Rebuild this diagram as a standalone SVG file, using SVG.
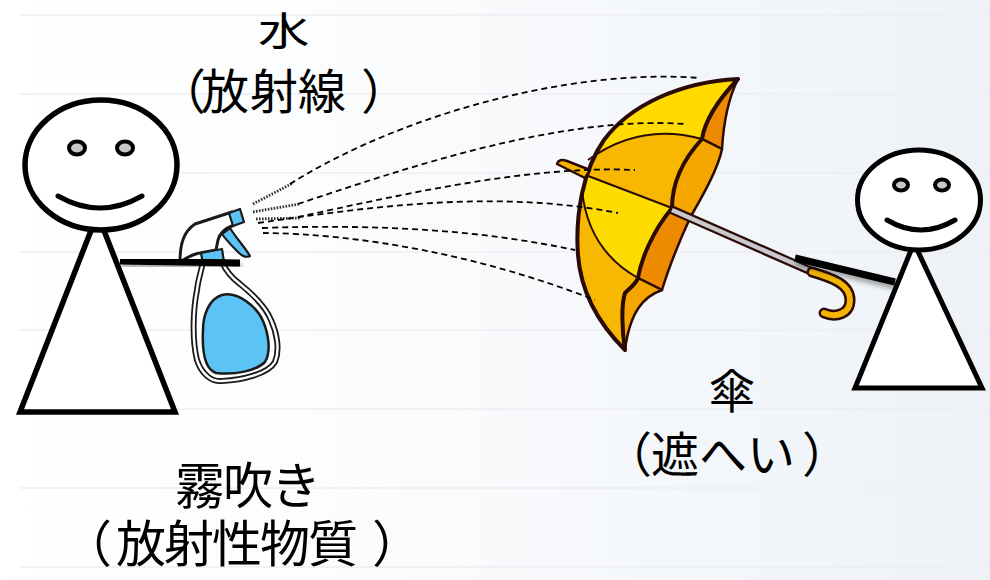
<svg xmlns="http://www.w3.org/2000/svg" width="990" height="580" viewBox="0 0 990 580">
  <defs>
    <linearGradient id="bg" x1="0" y1="0" x2="1" y2="0">
      <stop offset="0" stop-color="#ffffff"/>
      <stop offset="0.3" stop-color="#fcfdfe"/>
      <stop offset="1" stop-color="#eef2f7"/>
    </linearGradient>
    <filter id="armShadow" x="-20%" y="-100%" width="140%" height="400%">
      <feDropShadow dx="1" dy="4" stdDeviation="2.5" flood-color="#000" flood-opacity="0.35"/>
    </filter>
    <clipPath id="canopyFace">
      <path d="M738,79 C680,82 630,105 604,140 C583,170 575,215 578,255 C581,295 600,325 625,350 C622,330 621,305 625,293 C630,288 636,284 638,278 C641,260 652,232 672,208 C672,190 678,165 702,139 C705,120 718,100 738,79 Z"/>
    </clipPath>
    <style>
      .label { font-family: "Noto Sans CJK JP", "Noto Sans", sans-serif; fill: #000; }
      .rule { stroke: #eceef2; stroke-width: 1.5; }
      .figure { fill: #fff; stroke: #000; stroke-linejoin: miter; }
      .eye { fill: #c8c8c8; stroke: #000; stroke-width: 4; }
      .smile { fill: none; stroke: #000; stroke-width: 5; stroke-linecap: round; }
      .arm { stroke: #000; stroke-width: 7; filter: url(#armShadow); }
      .ink { stroke: #1a1a1a; stroke-linejoin: round; }
      .blue { fill: #5bc4f5; }
      .um { stroke: #2b0b06; stroke-linejoin: round; }
      .spray { fill: none; stroke: #000; stroke-width: 1.8; stroke-dasharray: 6 4; }
      .mist { fill: none; stroke: #333; stroke-width: 2.8; stroke-dasharray: 1.6 1.4; }
    </style>
  </defs>

  <!-- backdrop -->
  <rect width="990" height="580" fill="url(#bg)"/>
  <g id="rules">
    <line class="rule" x1="20" y1="15" x2="990" y2="15"/>
    <line class="rule" x1="20" y1="94" x2="990" y2="94"/>
    <line class="rule" x1="20" y1="173" x2="990" y2="173"/>
    <line class="rule" x1="20" y1="252" x2="990" y2="252"/>
    <line class="rule" x1="20" y1="330" x2="990" y2="330"/>
    <line class="rule" x1="20" y1="409" x2="990" y2="409"/>
    <line class="rule" x1="20" y1="488" x2="990" y2="488"/>
    <line class="rule" x1="20" y1="567" x2="990" y2="567"/>
  </g>

  <!-- person holding the spray bottle -->
  <g id="sprayer">
    <path class="figure" stroke-width="5.5" d="M97.5,214 L20,412 L175,412 Z"/>
    <ellipse class="figure" stroke-width="5.5" cx="101" cy="165" rx="76" ry="65"/>
    <ellipse class="eye" cx="77" cy="148" rx="8" ry="6.5"/>
    <ellipse class="eye" cx="125" cy="148" rx="8" ry="6.5"/>
    <path class="smile" d="M58,196 Q100,220 142,196"/>
  </g>

  <!-- spray bottle -->
  <g id="bottle">
    <path class="ink" fill="#fff" stroke-width="6" d="M203,262 C201,272 198,280 197,290 C193,310 192,340 197,360 C202,375 212,382 222,381 C242,380 268,374 275,362 C280,350 277,333 271,320 C265,305 250,292 240,284 C232,278 226,271 222,262 Z"/>
    <path fill="none" stroke="#fff" stroke-width="2.4" d="M203,262 C201,272 198,280 197,290 C193,310 192,340 197,360 C202,375 212,382 222,381 C242,380 268,374 275,362 C280,350 277,333 271,320 C265,305 250,292 240,284 C232,278 226,271 222,262 Z"/>
    <path class="ink blue" stroke-width="2.5" d="M222,295 C209,299 203,315 203,330 C202,350 204,369 216,373 C235,375 256,371 265,362 C271,352 269,335 263,321 C257,307 238,291 222,295 Z"/>
    <path class="ink" fill="#fff" stroke-width="3" d="M180,262 C180,245 183,232 195,224 L232,212 L234,225 C226,228 220,232 218,240 L216,250 L200,253 C192,254 186,258 180,262 Z"/>
    <path class="ink blue" stroke-width="2.2" d="M229,213 L240,209 L244,222 L233,226 Z"/>
    <path class="ink blue" stroke-width="2.2" d="M222,234 L230,228 C236,238 244,246 250,256 C246,258 242,256 238,252 C232,246 226,240 222,234 Z"/>
    <path class="ink blue" stroke-width="2.2" d="M201,253 L222,249 L224,262 L203,264 Z"/>
    <line class="arm" x1="120" y1="261" x2="240" y2="263"/>
  </g>

  <!-- umbrella -->
  <g id="umbrella">
    <g clip-path="url(#canopyFace)">
      <rect x="560" y="60" width="200" height="300" fill="#f8b700"/>
      <path fill="#ffdb00" d="M560,165 L588,160 Q640,122 702,139 L760,139 L760,60 L560,60 Z"/>
      <path fill="#ffdc00" d="M560,174 L583,174 L672,208 L700,300 L638,278 Q588,250 582,190 L560,190 Z"/>
    </g>
    <path class="um" fill="#ee8a00" stroke-width="2.5" d="M738,79 C730,95 724,115 722,149 L702,139 C705,120 718,100 738,79 Z"/>
    <path class="um" fill="#f5a700" stroke-width="2.5" d="M702,139 L722,149 C718,170 700,200 690,218 L672,208 C672,190 678,165 702,139 Z"/>
    <path class="um" fill="#ee8a00" stroke-width="2.5" d="M672,208 L690,218 C680,240 668,270 662,290 L638,278 C641,260 652,232 672,208 Z"/>
    <path class="um" fill="#f5a700" stroke-width="2.5" d="M638,278 L662,290 C645,296 630,310 625,350 C622,330 621,305 625,293 C630,288 636,284 638,278 Z"/>
    <g class="um" fill="none" stroke-width="2">
      <path d="M588,160 Q640,122 702,139"/>
      <path d="M583,174 L672,208"/>
      <path d="M582,190 Q588,250 638,278"/>
    </g>
    <path class="um" fill="none" stroke-width="4" d="M738,79 C680,82 630,105 604,140 C583,170 575,215 578,255 C581,295 600,325 625,350 C622,330 621,305 625,293 C630,288 636,284 638,278 C641,260 652,232 672,208 C672,190 678,165 702,139 C705,120 718,100 738,79 Z"/>
    <path class="um" fill="#f7b500" stroke-width="2.5" d="M557,164 Q559,158 567,161 L590,170 L585,178 Z"/>
    <line x1="670" y1="209" x2="813" y2="272" stroke="#2b0b06" stroke-width="9"/>
    <line x1="672" y1="210" x2="811" y2="271" stroke="#cacace" stroke-width="4.5"/>
    <path d="M812,272 C832,278 850,284 850,300 C850,314 836,318 824,313" fill="none" stroke="#2b0b06" stroke-width="11" stroke-linecap="round"/>
    <path d="M812,272 C832,278 850,284 850,300 C850,314 836,318 824,313" fill="none" stroke="#f5b400" stroke-width="6" stroke-linecap="round"/>
  </g>

  <!-- person holding the umbrella -->
  <g id="holder">
    <line class="arm" x1="795" y1="258" x2="895" y2="282"/>
    <path class="figure" stroke-width="5" d="M914,243 L855,388 L982,388 Z"/>
    <ellipse class="figure" stroke-width="5" cx="919" cy="200" rx="61.5" ry="50"/>
    <ellipse class="eye" cx="901" cy="185" rx="7" ry="5.5"/>
    <ellipse class="eye" cx="942" cy="185" rx="7" ry="5.5"/>
    <path class="smile" stroke-width="4.5" d="M887,220 Q921,240 955,220"/>
  </g>

  <!-- spray paths from the nozzle -->
  <g id="connectors">
    <path class="mist" d="M253,204 L293,183"/>
    <path class="mist" d="M253,212 L300,204"/>
    <path class="mist" d="M256,219 L300,218"/>
    <path class="spray" d="M290,184 C400,115 570,68 700,78"/>
    <path class="spray" d="M298,204 C400,170 560,115 685,124"/>
    <path class="spray" d="M298,217 C400,195 530,165 635,170"/>
    <path class="spray" d="M258,223 C380,205 500,190 618,213"/>
    <path class="spray" d="M262,228 C380,224 480,230 575,250"/>
    <path class="spray" d="M263,233 C360,234 480,255 595,300"/>
  </g>

  <!-- labels -->
  <g id="label-water">
    <text class="label" font-size="39" transform="translate(258,45) scale(1.32,1)">水</text>
    <text class="label" font-size="48" x="158 201 250 298 361" y="108.5">（放射線）</text>
  </g>
  <g id="label-mist">
    <text class="label" font-size="50" x="175 223 271" y="504">霧吹き</text>
    <text class="label" font-size="50" x="62 116 164 212 260 308 372" y="562">（放射性物質）</text>
  </g>
  <g id="label-umbrella">
    <text class="label" font-size="46" x="709" y="408">傘</text>
    <text class="label" font-size="48" x="604 651 699 747 802" y="471.5">（遮へい）</text>
  </g>
</svg>
